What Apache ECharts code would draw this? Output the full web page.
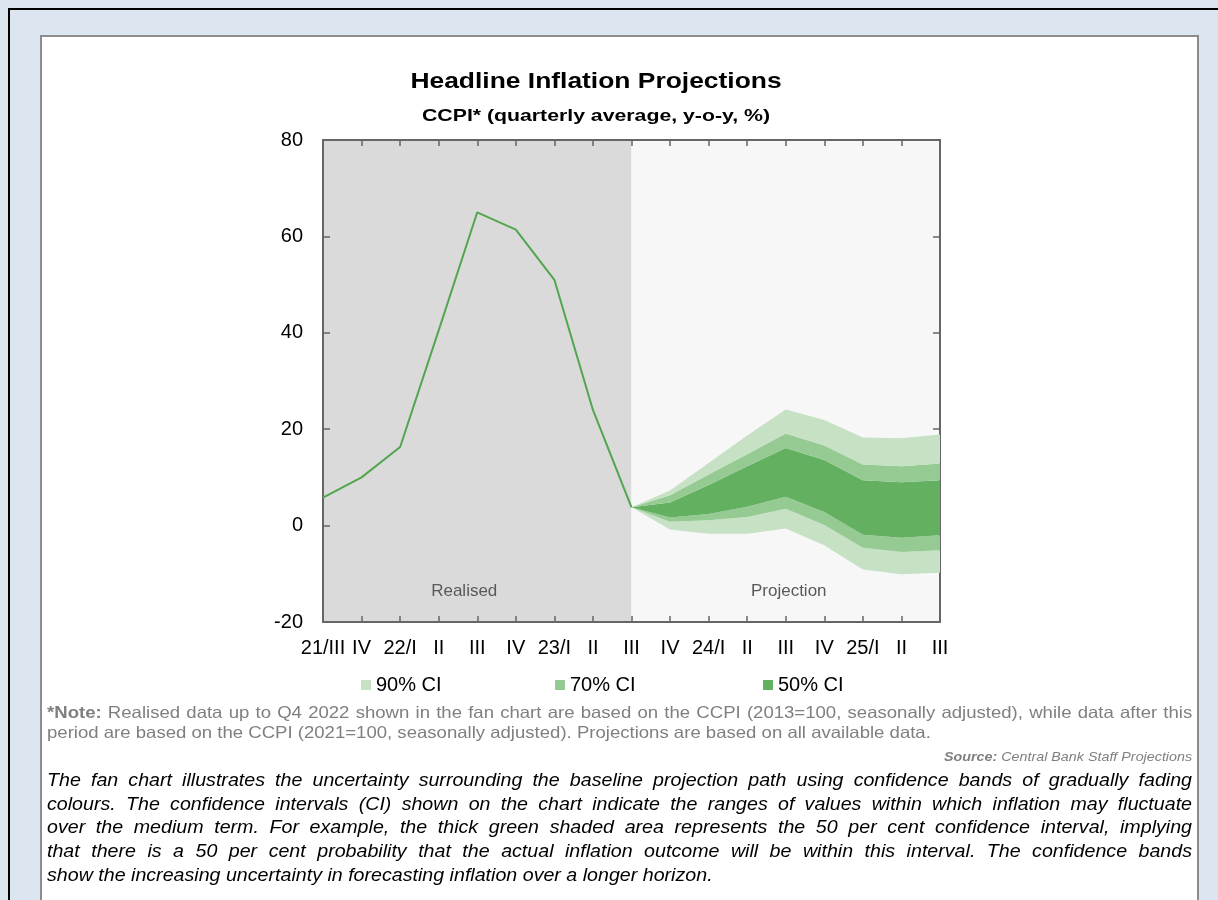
<!DOCTYPE html>
<html><head><meta charset="utf-8">
<script src="https://cdn.jsdelivr.net/npm/echarts@6/dist/echarts.min.js"></script>
<style>
html,body{margin:0;padding:0;width:1218px;height:900px;overflow:hidden;background:#dce6f0;font-family:"Liberation Sans",Arial,sans-serif;}
#topline{position:absolute;left:8px;top:8px;width:1210px;height:2px;background:#000;}
#leftline{position:absolute;left:8px;top:8px;width:2px;height:892px;background:#000;}
#box{position:absolute;left:40px;top:35px;width:1159px;height:900px;box-sizing:border-box;background:#fff;border:2px solid #8c8c8c;}
#chart{position:absolute;left:0;top:0;width:1218px;height:900px;}
.ln{position:absolute;left:47px;white-space:nowrap;transform-origin:0 0;}
.j{text-align:justify;text-align-last:justify;white-space:normal;}
.note{color:#7f7f7f;font-size:16.5px;line-height:20px;width:1018px;transform:scaleX(1.125);}
.src{position:absolute;right:26px;top:748px;color:#7f7f7f;font-size:13.5px;line-height:18px;font-style:italic;transform-origin:100% 0;transform:scaleX(1.06);}
.para{color:#000;font-size:18px;line-height:24px;font-style:italic;width:1050px;transform:scaleX(1.0905);}
</style></head>
<body>
<div id="topline"></div><div id="leftline"></div><div id="box"></div>
<div id="chart"></div>
<div class="ln j note" style="top:702px"><b>*Note:</b> Realised data up to Q4 2022 shown in the fan chart are based on the CCPI (2013=100, seasonally adjusted), while data after this</div>
<div class="ln note" style="top:722px">period are based on the CCPI (2021=100, seasonally adjusted). Projections are based on all available data.</div>
<div class="src"><b>Source:</b> Central Bank Staff Projections</div>
<div class="ln j para" style="top:768px">The fan chart illustrates the uncertainty surrounding the baseline projection path using confidence bands of gradually fading</div>
<div class="ln j para" style="top:792px">colours. The confidence intervals (CI) shown on the chart indicate the ranges of values within which inflation may fluctuate</div>
<div class="ln j para" style="top:815px">over the medium term. For example, the thick green shaded area represents the 50 per cent confidence interval, implying</div>
<div class="ln j para" style="top:839px">that there is a 50 per cent probability that the actual inflation outcome will be within this interval. The confidence bands</div>
<div class="ln para" style="top:863px">show the increasing uncertainty in forecasting inflation over a longer horizon.</div>
<script>
// ---- data ----
const categories = ['21/III','IV','22/I','II','III','IV','23/I','II','III','IV','24/I','II','III','IV','25/I','II','III'];
const realised = [5.8, 10.0, 16.3, 40.5, 65.0, 61.4, 51.0, 24.0, 3.8];
// projection bands, from 23/III to 25/III
const upper90 = [3.8, 7.3, 13.0, 18.7, 24.1, 21.9, 18.3, 18.1, 18.9];
const upper70 = [3.8, 6.3, 10.6, 14.8, 19.1, 16.6, 12.7, 12.3, 12.9];
const upper50 = [3.8, 4.8, 8.4, 12.3, 16.1, 13.6, 9.4, 9.0, 9.4];
const lower50 = [3.8, 1.7, 2.4, 3.9, 6.0, 2.8, -1.9, -2.5, -2.0];
const lower70 = [3.8, 0.8, 1.1, 1.8, 3.5, 0.1, -4.6, -5.5, -5.1];
const lower90 = [3.8, -0.8, -1.7, -1.7, -0.6, -4.1, -9.1, -10.1, -9.8];
const yTicks = {min: -20, max: 80, step: 20};
const regionNames = ['Realised', 'Projection'];
const legendNames = ['90% CI', '70% CI', '50% CI'];
const titleText = 'Headline Inflation Projections';
const subtitleText = 'CCPI* (quarterly average, y-o-y, %)';

// ---- build ----
const startIdx = realised.length - 1;
const pad = new Array(startIdx).fill(null);
const lineData = realised.concat(new Array(categories.length - realised.length).fill(null));
const diff = (a, b) => a.map((v, i) => +(v - b[i]).toFixed(2));
const C90 = '#c6e1c4', C70 = '#95ca92', C50 = '#64b061', LINE = '#52a64e';

function band(name, data, color) {
  return {
    name: name, type: 'line', stack: 'fan', stackStrategy: 'all',
    data: pad.concat(data), showSymbol: false, symbol: 'none', silent: true,
    color: color, itemStyle: {color: color},
    lineStyle: {width: 0, opacity: 0},
    areaStyle: {color: color, opacity: 1}
  };
}

const AX = '#666';
const font = '"Liberation Sans", Arial, sans-serif';
const chart = echarts.init(document.getElementById('chart'), null, {renderer: 'canvas'});
const legendBase = {
  orient: 'horizontal', top: 675, padding: 0, icon: 'rect', itemWidth: 10, itemHeight: 10,
  selectedMode: false, textStyle: {fontSize: 20, color: '#000', fontFamily: font}
};
const axisLineStyle = {show: true, onZero: false, lineStyle: {color: AX, width: 2}};
const tickStyle = {show: true, inside: true, length: 6, interval: 0, lineStyle: {color: AX, width: 1.5}};
chart.setOption({
  animation: false,
  backgroundColor: 'transparent',
  textStyle: {fontFamily: font},
  graphic: [
    {type: 'text', x: 596, y: 82, scaleX: 1.2, style: {text: titleText, font: 'bold 22px "Liberation Sans", Arial', fill: '#000', align: 'center', verticalAlign: 'middle'}},
    {type: 'text', x: 596, y: 116, scaleX: 1.25, style: {text: subtitleText, font: 'bold 17px "Liberation Sans", Arial', fill: '#000', align: 'center', verticalAlign: 'middle'}}
  ],
  legend: [
    Object.assign({left: 361, data: [legendNames[0]]}, legendBase),
    Object.assign({left: 555, data: [legendNames[1]]}, legendBase),
    Object.assign({left: 763, data: [legendNames[2]]}, legendBase)
  ],
  grid: {left: 323, right: 278, top: 140, bottom: 278, containLabel: false},
  xAxis: [
    {type: 'category', data: categories, boundaryGap: false, position: 'bottom',
     axisLine: axisLineStyle, axisTick: tickStyle,
     axisLabel: {interval: 0, margin: 16, fontSize: 20, color: '#000'}, splitLine: {show: false}},
    {type: 'category', data: categories, boundaryGap: false, position: 'top',
     axisLine: axisLineStyle, axisTick: tickStyle,
     axisLabel: {show: false}, splitLine: {show: false}}
  ],
  yAxis: [
    {type: 'value', min: yTicks.min, max: yTicks.max, interval: yTicks.step, position: 'left',
     axisLine: axisLineStyle, axisTick: Object.assign({}, tickStyle, {length: 7}),
     axisLabel: {margin: 20, fontSize: 20, color: '#000'}, splitLine: {show: false}},
    {type: 'value', min: yTicks.min, max: yTicks.max, interval: yTicks.step, position: 'right',
     axisLine: axisLineStyle, axisTick: Object.assign({}, tickStyle, {length: 7}),
     axisLabel: {show: false}, splitLine: {show: false}}
  ],
  series: [
    {name: 'base', type: 'line', stack: 'fan', stackStrategy: 'all', data: pad.concat(lower90),
     showSymbol: false, symbol: 'none', silent: true, lineStyle: {width: 0, opacity: 0}},
    band(legendNames[0], diff(lower70, lower90), C90),
    band(legendNames[1], diff(lower50, lower70), C70),
    band(legendNames[2], diff(upper50, lower50), C50),
    band(legendNames[1], diff(upper70, upper50), C70),
    band(legendNames[0], diff(upper90, upper70), C90),
    {name: 'CCPI', type: 'line', data: lineData, showSymbol: false, symbol: 'none', z: 5,
     lineStyle: {color: LINE, width: 2}, itemStyle: {color: LINE},
     markArea: {silent: true, z: 0,
       label: {show: true, position: 'insideBottom', distance: 22, fontSize: 17, color: '#595959'},
       data: [
         [{name: regionNames[0], xAxis: 0, itemStyle: {color: '#dadada'}, label: {offset: [-13, 0]}}, {xAxis: startIdx}],
         [{name: regionNames[1], xAxis: startIdx, itemStyle: {color: '#f7f7f7'}, label: {offset: [3, 0]}}, {xAxis: categories.length - 1}]
       ]}}
  ]
});
</script>
</body></html>
